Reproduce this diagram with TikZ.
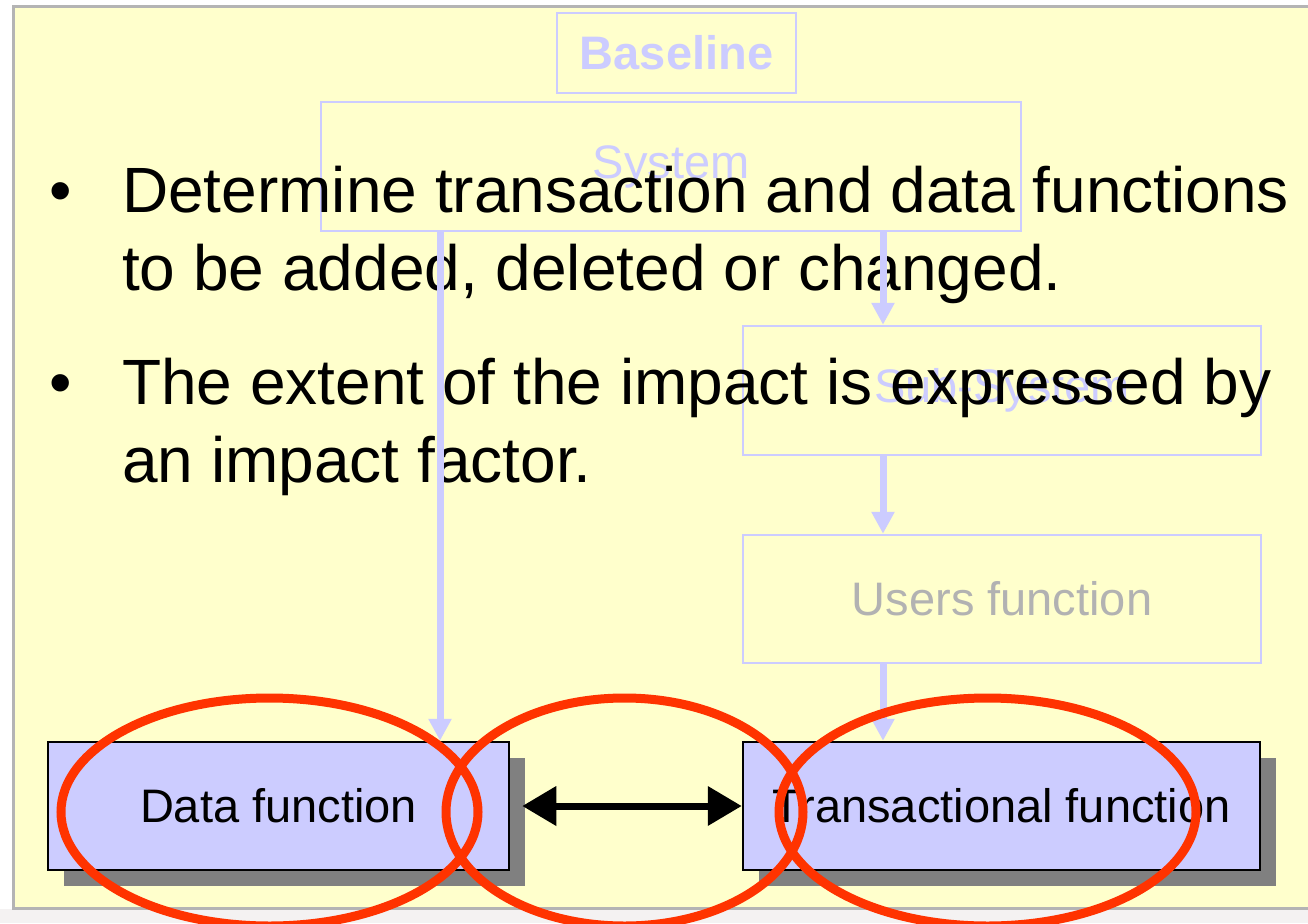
\documentclass[tikz,border=0pt]{standalone}
\usepackage{fontspec}
\setmainfont{Liberation Sans}
\usetikzlibrary{arrows.meta,shadows}
\definecolor{bgyellow}{HTML}{FFFFCC}
\definecolor{lblue}{HTML}{CCCCFF}
\definecolor{ugray}{HTML}{B2B2B2}
\definecolor{redring}{HTML}{FF3300}
\definecolor{shadowgray}{HTML}{808080}
\definecolor{framegray}{HTML}{B4B4B4}
\definecolor{bottomgray}{HTML}{F4F2F2}
\begin{document}
\begin{tikzpicture}[x=1pt,y=-1pt,
  ghostbox/.style={draw=lblue, line width=2.5pt, inner sep=0pt, text=lblue,
    font=\fontsize{47}{56}\selectfont},
  funcbox/.style={draw=black, line width=2.5pt, fill=lblue, inner sep=0pt,
    font=\fontsize{47}{56}\selectfont,
    drop shadow={shadow xshift=16pt, shadow yshift=-16pt, fill=shadowgray, opacity=1}},
  bullettext/.style={inner sep=0pt, font=\fontsize{64}{78}\selectfont, text=black},
  bluelink/.style={draw=lblue, line width=7pt, -{Triangle[width=22pt,length=22pt]}},
  bothlink/.style={draw=black, line width=7pt, {Triangle[width=38pt,length=34pt]}-{Triangle[width=38pt,length=34pt]}},
  ring/.style={draw=redring, line width=9pt}]
\useasboundingbox (0,0) rectangle (1308,923);
% background
\fill[white] (0,0) rectangle (1308,923);
\fill[bottomgray] (0,909) rectangle (1308,923);
\fill[bgyellow] (15,8) rectangle (1308,907);
\draw[framegray, line width=3pt] (1308,6.5) -- (13.5,6.5) -- (13.5,908) -- (1308,908);
% diagram boxes
\node[ghostbox, minimum width=239pt, minimum height=80pt, font=\bfseries\fontsize{47}{56}\selectfont] (baseline) at (676.5,53) {Baseline};
\node[ghostbox, minimum width=700pt, minimum height=129pt] (system) at (671,166.5) {System};
\node[ghostbox, minimum width=518pt, minimum height=129pt] (subsys) at (1002,390.5) {Sub-System};
\node[ghostbox, minimum width=518pt, minimum height=128pt, text=ugray] (users) at (1002,599) {Users function};
\node[funcbox, minimum width=461pt, minimum height=128pt] (data) at (278.5,806) {Data function};
\node[funcbox, minimum width=517pt, minimum height=128pt] (trans) at (1001.5,806) {Transactional function};
% bullet text
\node[bullettext, anchor=base west] (b1) at (49,212) {•};
\node[bullettext, anchor=base west] (l1) at (122,212) {Determine transaction and data functions};
\node[bullettext, anchor=base west] (l2) at (122,290) {to be added, deleted or changed.};
\node[bullettext, anchor=base west] (b2) at (49,404) {•};
\node[bullettext, anchor=base west] (l3) at (122,404) {The extent of the impact is expressed by};
\node[bullettext, anchor=base west] (l4) at (122,482) {an impact factor.};
% connectors
\coordinate (xl) at (440,0);
\coordinate (xr) at (883,0);
\draw[bluelink] (system.south -| xl) -- (data.north -| xl);
\draw[bluelink] (system.south -| xr) -- (subsys.north -| xr);
\draw[bluelink] (subsys.south -| xr) -- (users.north -| xr);
\draw[bluelink] (users.south -| xr) -- (trans.north -| xr);
\draw[bothlink] ([xshift=12pt]data.east) -- (trans.west);
% red rings
\draw[ring] (269.5,812) ellipse [x radius=208.5, y radius=114];
\draw[ring] (624.5,812) ellipse [x radius=178.5, y radius=114];
\draw[ring] (987.5,812) ellipse [x radius=208.5, y radius=114];
\end{tikzpicture}
\end{document}
